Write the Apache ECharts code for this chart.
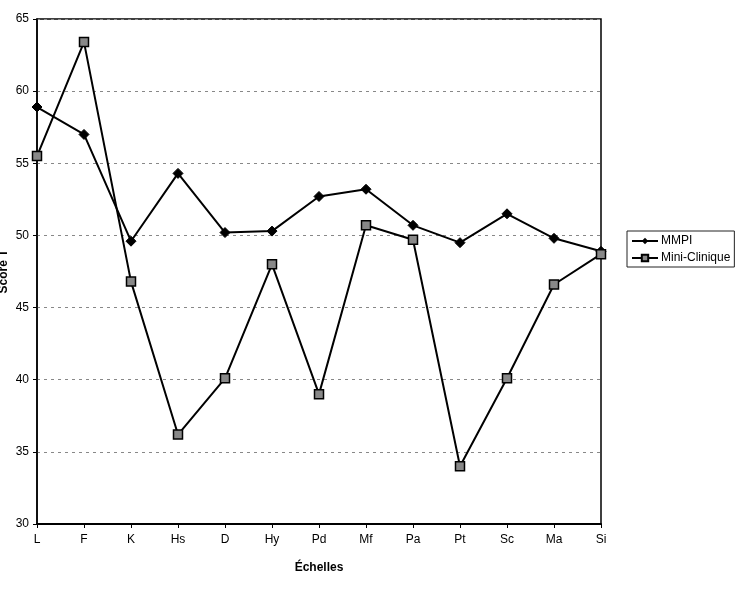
<!DOCTYPE html>
<html>
<head>
<meta charset="utf-8">
<script src="https://cdn.jsdelivr.net/npm/echarts@6/dist/echarts.min.js"></script>
<style>
  html, body { margin: 0; padding: 0; background: #fff; }
  #chart { width: 738px; height: 598px; }
</style>
</head>
<body>
<div id="chart"></div>
<script>
var echelles = ['L', 'F', 'K', 'Hs', 'D', 'Hy', 'Pd', 'Mf', 'Pa', 'Pt', 'Sc', 'Ma', 'Si'];
var mmpi = [58.9, 57.0, 49.6, 54.3, 50.2, 50.3, 52.7, 53.2, 50.7, 49.5, 51.5, 49.8, 48.9];
var miniClinique = [55.5, 63.4, 46.8, 36.2, 40.1, 48.0, 39.0, 50.7, 49.7, 34.0, 40.1, 46.6, 48.7];

var myChart = echarts.init(document.getElementById('chart'));
var font = 'Liberation Sans, Arial, sans-serif';

var option = {
    animation: false,
    textStyle: {fontFamily: font},
    grid: {left: 37, right: 137, top: 19, bottom: 74, containLabel: false, outerBoundsMode: 'none'},
    legend: {
        orient: 'vertical',
        left: 627, top: 231,
        padding: [4, 4, 3, 4],
        itemGap: 5,
        itemWidth: 26, itemHeight: 8,
        borderColor: '#222', borderWidth: 1,
        textStyle: {fontSize: 12, color: '#000', fontFamily: font, padding: [0, 0, 0, -2]},
        data: ['MMPI', 'Mini-Clinique']
    },
    xAxis: {
        type: 'category',
        data: echelles,
        boundaryGap: false,
        name: 'Échelles',
        nameLocation: 'middle',
        nameGap: 38,
        nameMoveOverlap: false,
        nameTextStyle: {fontWeight: 'bold', fontSize: 12, color: '#000'},
        axisLine: {lineStyle: {color: '#000', width: 2}},
        axisTick: {show: true, alignWithLabel: true, length: 4, lineStyle: {color: '#000'}},
        axisLabel: {color: '#000', fontSize: 12, margin: 10, interval: 0}
    },
    yAxis: {
        type: 'value',
        min: 30, max: 65, interval: 5,
        name: 'Score T',
        nameLocation: 'middle',
        nameGap: 27,
        nameMoveOverlap: false,
        nameTextStyle: {fontWeight: 'bold', fontSize: 12, color: '#000'},
        axisLine: {show: true, lineStyle: {color: '#000', width: 1.5}},
        axisTick: {show: true, length: 4, lineStyle: {color: '#000'}},
        axisLabel: {color: '#000', fontSize: 12, margin: 8},
        splitLine: {show: true, lineStyle: {color: '#888', type: [3, 4], width: 1}}
    },
    series: [
        {
            name: 'MMPI',
            type: 'line',
            data: mmpi,
            symbol: 'diamond',
            symbolSize: 10,
            lineStyle: {color: '#000', width: 2},
            itemStyle: {color: '#000', borderColor: '#000'}
        },
        {
            name: 'Mini-Clinique',
            type: 'line',
            data: miniClinique,
            symbol: 'rect',
            symbolSize: 9,
            lineStyle: {color: '#000', width: 2},
            itemStyle: {color: '#888', borderColor: '#000', borderWidth: 1.5}
        }
    ]
};

// cadre autour de la zone du graphique
option.graphic = [{
    type: 'rect',
    shape: {x: 37, y: 19, width: 564, height: 505},
    style: {fill: 'none', stroke: '#000', lineWidth: 1.5},
    silent: true
}];

myChart.setOption(option);
</script>
</body>
</html>
